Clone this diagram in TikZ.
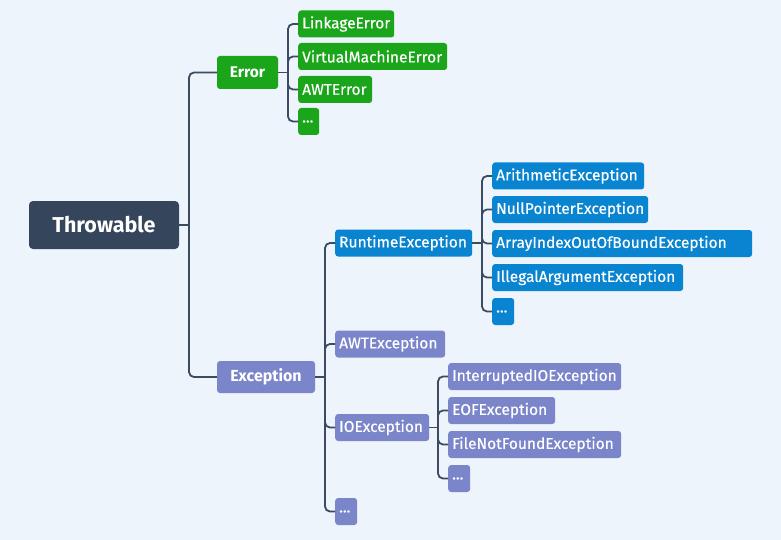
\documentclass[tikz,border=0pt]{standalone}
\usepackage{fontspec}
\setmainfont{Fira Sans}
\newfontfamily\medfont[FakeBold=0.3]{Fira Sans}
\definecolor{bg}{HTML}{EDF4FB}
\definecolor{cdark}{HTML}{34455C}
\definecolor{cgreen}{HTML}{1AA51A}
\definecolor{cblue}{HTML}{0984D0}
\definecolor{cpurple}{HTML}{7B86CA}
\definecolor{cline}{HTML}{3B4B60}
\tikzset{
  base/.style={rounded corners=3pt, text=white, inner ysep=0pt, inner xsep=4pt, minimum height=27pt, anchor=west, align=left, font=\medfont\fontsize{15.5}{17}\selectfont},
  gbox/.style={base, fill=cgreen},
  bbox/.style={base, fill=cblue},
  pbox/.style={base, fill=cpurple},
  conn/.style={draw=cline, line width=1.8pt, rounded corners=5pt},
}
\begin{document}
\begin{tikzpicture}[x=1pt,y=1pt]
\fill[bg] (0,0) rectangle (781,-540);
\useasboundingbox (0,0) rectangle (781,-540);
% main nodes
\node[rounded corners=4pt, fill=cdark, text=white, minimum width=150pt, minimum height=48pt, inner sep=0pt, font=\fontsize{21.5}{24}\selectfont\bfseries] (thr) at (104,-225) {Throwable};
\node[rounded corners=3pt, fill=cgreen, text=white, minimum width=61pt, minimum height=33pt, inner sep=0pt, font=\fontsize{15.5}{17}\selectfont\bfseries] (err) at (247.5,-72.5) {Error};
\node[rounded corners=3pt, fill=cpurple, text=white, minimum width=98pt, minimum height=32pt, inner sep=0pt, font=\fontsize{16}{18}\selectfont\bfseries] (exc) at (266,-377) {Exception};
% error children
\node[gbox, text width=88pt] (e1) at (298,-24) {LinkageError};
\node[gbox, text width=141pt] (e2) at (298,-56.5) {VirtualMachineError};
\node[gbox, text width=66pt] (e3) at (298,-89.5) {AWTError};
\node[gbox, text width=13pt] (e4) at (298,-121.5) {...};
% exception children
\node[bbox, text width=129pt] (rt) at (335,-243) {RuntimeException};
\node[pbox, text width=102pt] (awt) at (335,-344) {AWTException};
\node[pbox, text width=86pt] (io) at (335,-427.5) {IOException};
\node[pbox, text width=14pt] (x4) at (335,-511.5) {...};
% runtime children
\node[bbox, text width=144pt] (r1) at (492,-176) {ArithmeticException};
\node[bbox, text width=148pt] (r2) at (492,-209.5) {NullPointerException};
\node[bbox, text width=252pt] (r3) at (492,-243.5) {ArrayIndexOutOfBoundException};
\node[bbox, text width=183pt] (r4) at (492,-277.5) {IllegalArgumentException};
\node[bbox, text width=14pt] (r5) at (492,-311.5) {...};
% io children
\node[pbox, text width=165pt] (i1) at (448,-376.5) {InterruptedIOException};
\node[pbox, text width=99pt] (i2) at (448,-410.5) {EOFException};
\node[pbox, text width=165pt] (i3) at (448,-444.5) {FileNotFoundException};
\node[pbox, text width=14pt] (i4) at (448,-478.5) {...};
% trunk coordinates
\coordinate (tT) at (189,-225);
\coordinate (tE) at (288,-72.5);
\coordinate (tX) at (325,-377);
\coordinate (tR) at (482,-243);
\coordinate (tI) at (438,-427.5);
% connectors
\draw[conn] (thr.east) -- (tT);
\foreach \c in {err,exc} \draw[conn] (tT) |- (\c.west);
\draw[conn] (err.east) -- (tE);
\foreach \c in {e1,e2,e3,e4} \draw[conn] (tE) |- (\c.west);
\draw[conn] (exc.east) -- (tX);
\foreach \c in {rt,awt,io,x4} \draw[conn] (tX) |- (\c.west);
\draw[conn] (rt.east) -- (tR);
\foreach \c in {r1,r2,r3,r4,r5} \draw[conn] (tR) |- (\c.west);
\draw[conn] (io.east) -- (tI);
\foreach \c in {i1,i2,i3,i4} \draw[conn] (tI) |- (\c.west);
\end{tikzpicture}
\end{document}
